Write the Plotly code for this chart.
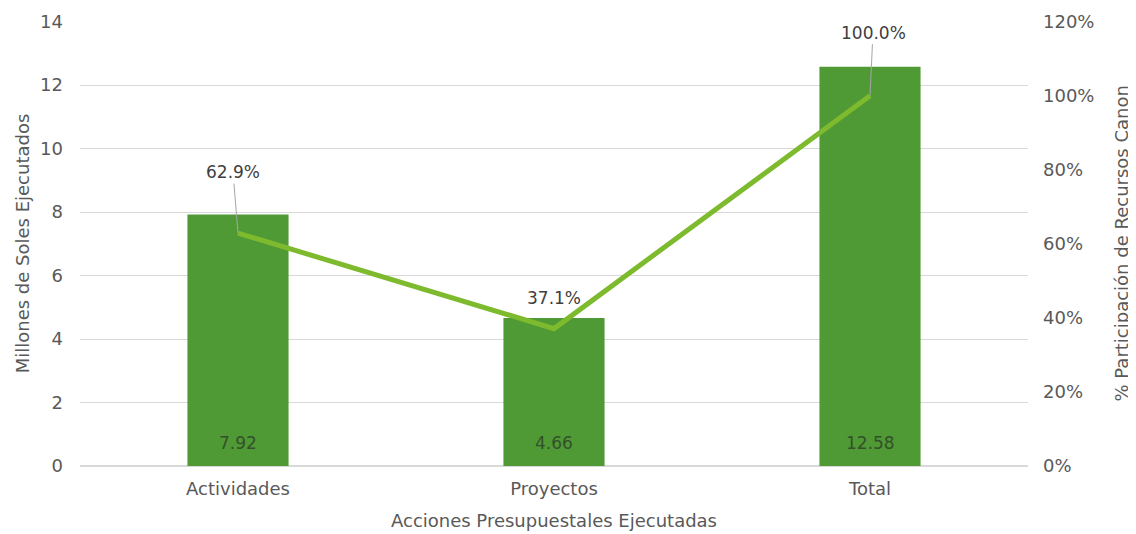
import plotly.graph_objects as go

categories = ["Actividades", "Proyectos", "Total"]
montos = [7.92, 4.66, 12.58]
participacion = [62.9, 37.1, 100.0]
bar_labels = ["7.92", "4.66", "12.58"]
pct_labels = ["62.9%", "37.1%", "100.0%"]
y2_ticks = [0, 20, 40, 60, 80, 100, 120]
y2_ticktext = ["0%", "20%", "40%", "60%", "80%", "100%", "120%"]
y2_title = "% Participación de Recursos Canon"

FONT = "DejaVu Sans"
GRAY = "#595959"
FS = 18

fig = go.Figure()
fig.add_trace(go.Bar(
    x=categories, y=montos, width=0.32,
    marker=dict(color="#4F9A35", line=dict(width=0)),
    showlegend=False, hoverinfo="skip"))
fig.add_trace(go.Scatter(
    x=categories, y=participacion, yaxis="y2", mode="lines",
    line=dict(color="#7DBA2E", width=5), showlegend=False, hoverinfo="skip"))

for c, t in zip(categories, bar_labels):
    fig.add_annotation(x=c, y=0, text=t, showarrow=False, yanchor="middle",
                       yshift=23, font=dict(family=FONT, size=17, color="#34502a"))

offsets = [(-5, -61, True), (0, -31, False), (3, -63, True)]
for c, v, t, (ax, ay, arrow) in zip(categories, participacion, pct_labels, offsets):
    fig.add_annotation(x=c, y=v, yref="y2", text=t, showarrow=True,
                       ax=ax, ay=ay, arrowhead=0, arrowwidth=1,
                       arrowcolor="#a6a6a6" if arrow else "rgba(0,0,0,0)",
                       font=dict(family=FONT, size=17, color="#404040"))

# right axis title as rotated annotation in the right margin
fig.add_annotation(xref="paper", yref="paper", x=1, y=0.5, xshift=93,
                   xanchor="center", yanchor="middle", textangle=-90,
                   text=y2_title, showarrow=False,
                   font=dict(family=FONT, size=FS, color=GRAY))

fig.update_layout(
    width=1128, height=526,
    margin=dict(l=72, r=108, t=13, b=68),
    paper_bgcolor="white", plot_bgcolor="white",
    font=dict(family=FONT, color=GRAY),
    xaxis=dict(title=dict(text="Acciones Presupuestales Ejecutadas",
                          font=dict(size=FS, color=GRAY), standoff=16),
               tickfont=dict(size=FS, color=GRAY), showline=False,
               ticks="", showgrid=False, automargin=False, ticklabelstandoff=10),
    yaxis=dict(title=dict(text="Millones de Soles Ejecutados",
                          font=dict(size=FS, color=GRAY), standoff=5),
               range=[0, 14.02], tickvals=[0, 2, 4, 6, 8, 10, 12, 14],
               tickfont=dict(size=FS, color=GRAY),
               gridcolor="#d9d9d9", gridwidth=1, zeroline=True,
               zerolinecolor="#d9d9d9", ticks="", showline=False,
               automargin=False, ticklabelstandoff=16),
    yaxis2=dict(range=[0, 120.17], tickvals=y2_ticks, ticktext=y2_ticktext,
                overlaying="y", side="right", showgrid=False, zeroline=False,
                tickfont=dict(size=FS, color=GRAY), ticks="",
                automargin=False, ticklabelstandoff=14),
)

fig.write_html("out.html")
